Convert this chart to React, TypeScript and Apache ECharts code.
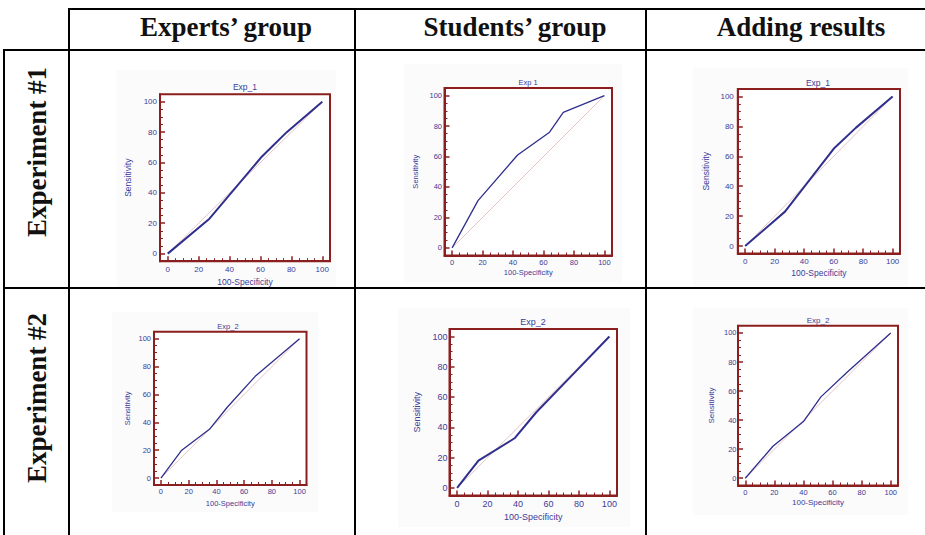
import React, { useEffect, useRef } from 'react';
import * as echarts from 'echarts';

// ---------- data ----------
const columnHeaders = ['Experts\u2019 group', 'Students\u2019 group', 'Adding results'];
const rowHeaders = ['Experiment #1', 'Experiment #2'];
const panelTitles = ['Exp_1', 'Exp 1', 'Exp_1', 'Exp_2', 'Exp_2', 'Exp_2'];
const tickValues = [0, 20, 40, 60, 80, 100];
const minorTickValues = [5, 10, 15, 25, 30, 35, 45, 50, 55, 65, 70, 75, 85, 90, 95];
const xAxisName = '100-Specificity';
const yAxisName = 'Sensitivity';
const diagonalX = [0, 100];
const diagonalY = [0, 100];

const expertsExp1X = [0, 27, 61, 77, 100];
const expertsExp1Y = [0, 23, 64, 80, 100];
const studentsExp1X = [0, 17, 43, 64, 73, 100];
const studentsExp1Y = [0, 31, 61, 76, 89, 100];
const addingExp1X = [0, 27, 60, 75, 100];
const addingExp1Y = [0, 23, 65, 79, 100];
const expertsExp2X = [0, 15, 35, 48, 68, 100];
const expertsExp2Y = [0, 20, 35, 51, 73, 100];
const studentsExp2X = [0, 14, 38, 52, 77, 100];
const studentsExp2Y = [0, 18, 33, 50, 76, 100];
const addingExp2X = [0, 19, 40, 52, 70, 100];
const addingExp2Y = [0, 22, 39, 56, 73, 100];

const curvesX = [expertsExp1X, studentsExp1X, addingExp1X, expertsExp2X, studentsExp2X, addingExp2X];
const curvesY = [expertsExp1Y, studentsExp1Y, addingExp1Y, expertsExp2Y, studentsExp2Y, addingExp2Y];

// ---------- layout / style ----------
const MAROON = '#8b1e1e';
const BLUE_TEXT = '#3b3b98';
const BLUE_LINE = '#2f2f8e';
const DIAG = '#e8c4c4';
const SANS = '"Liberation Sans", Arial, sans-serif';
const SERIF = '"Liberation Serif", "Times New Roman", serif';

const layout = [
  { L: 160, T: 94.2, R: 330, B: 261.2, tx: 245, ty: 87, tick: 8, name: 8.5, title: 8.5, yGap: 28, xGap: 16.5, xM: 4, yM: 3, lw: 2, bg: [117, 70, 336, 287] },
  { L: 444.5, T: 88, R: 612, B: 255.5, tx: 528, ty: 82, tick: 7.5, name: 7.5, title: 7.5, yGap: 25, xGap: 13, xM: 2.5, yM: 2.5, lw: 1.3, bg: [404, 64, 622, 283] },
  { L: 737.8, T: 89, R: 900, B: 253.5, tx: 818, ty: 83, tick: 8, name: 8.5, title: 8.5, yGap: 27.5, xGap: 15, xM: 3.5, yM: 4, lw: 2, bg: [693, 68, 908, 286] },
  { L: 154, T: 331.8, R: 306.5, B: 485, tx: 228, ty: 326, tick: 7.5, name: 7.5, title: 7.5, yGap: 23, xGap: 14, xM: 2, yM: 3, lw: 1.3, bg: [112, 312, 318, 512] },
  { L: 449.5, T: 329, R: 617, B: 495.5, tx: 533, ty: 322, tick: 9, name: 9, title: 9, yGap: 28, xGap: 17, xM: 3.5, yM: 2, lw: 2, bg: [398, 308, 630, 527] },
  { L: 738, T: 325.7, R: 898, B: 485.5, tx: 818, ty: 320, tick: 7.5, name: 8, title: 8, yGap: 23, xGap: 13, xM: 2.5, yM: 1.5, lw: 1.3, bg: [693, 308, 908, 515] },
];

const labelFormatter = (v: number) => (v % 20 === 0 && v >= 0 && v <= 100 ? String(v) : '');

function buildOption() {
  const grid: any[] = [];
  const xAxis: any[] = [];
  const yAxis: any[] = [];
  const series: any[] = [];
  const elements: any[] = [];

  layout.forEach((p, i) => {
    grid.push({
      left: p.L, top: p.T, width: p.R - p.L, height: p.B - p.T,
      show: true, backgroundColor: '#ffffff', borderColor: MAROON, borderWidth: 2,
    });
    const common = { gridIndex: i, type: 'value', min: -5, max: 105, splitLine: { show: false } };
    xAxis.push({
      ...common, position: 'bottom', offset: 0,
      axisLine: { show: true, onZero: false, lineStyle: { color: MAROON, width: 2 } },
      axisTick: { show: true, inside: true, length: 5, customValues: tickValues, lineStyle: { color: MAROON, width: 1.5 } },
      axisLabel: { show: true, customValues: tickValues, formatter: labelFormatter, color: BLUE_TEXT, fontSize: p.tick, fontFamily: SANS, margin: p.xM },
      name: xAxisName, nameLocation: 'middle', nameGap: p.xGap,
      nameTextStyle: { color: BLUE_TEXT, fontSize: p.name, fontFamily: SANS },
    });
    xAxis.push({
      ...common, position: 'bottom', offset: 0,
      axisLine: { show: false, onZero: false },
      axisTick: { show: true, inside: true, length: 3, customValues: minorTickValues, lineStyle: { color: MAROON, width: 1 } },
      axisLabel: { show: false },
    });
    yAxis.push({
      ...common, position: 'left', offset: 0,
      axisLine: { show: true, onZero: false, lineStyle: { color: MAROON, width: 2 } },
      axisTick: { show: true, inside: true, length: 5, customValues: tickValues, lineStyle: { color: MAROON, width: 1.5 } },
      axisLabel: { show: true, customValues: tickValues, formatter: labelFormatter, color: BLUE_TEXT, fontSize: p.tick, fontFamily: SANS, margin: p.yM },
      name: yAxisName, nameLocation: 'middle', nameGap: p.yGap, nameRotate: 90,
      nameTextStyle: { color: BLUE_TEXT, fontSize: p.name, fontFamily: SANS },
    });
    yAxis.push({
      ...common, position: 'left', offset: 0,
      axisLine: { show: false, onZero: false },
      axisTick: { show: true, inside: true, length: 3, customValues: minorTickValues, lineStyle: { color: MAROON, width: 1 } },
      axisLabel: { show: false },
    });

    series.push({
      type: 'line', xAxisIndex: 2 * i, yAxisIndex: 2 * i, symbol: 'none', silent: true,
      data: diagonalX.map((x, k) => [x, diagonalY[k]]),
      lineStyle: { color: DIAG, width: 1 }, z: 2,
    });
    series.push({
      type: 'line', xAxisIndex: 2 * i, yAxisIndex: 2 * i, symbol: 'none', silent: true,
      name: panelTitles[i],
      data: curvesX[i].map((x, k) => [x, curvesY[i][k]]),
      lineStyle: { color: BLUE_LINE, width: p.lw }, z: 3,
    });

    const [bx0, by0, bx1, by1] = p.bg;
    elements.push({
      type: 'rect', z: -10, silent: true,
      shape: { x: bx0, y: by0, width: bx1 - bx0, height: by1 - by0 },
      style: { fill: '#fbfbfb' },
    });
    elements.push({
      type: 'text', x: p.tx, y: p.ty, z: 50,
      style: { text: panelTitles[i], fill: BLUE_TEXT, font: `${p.title}px ${SANS}`, textAlign: 'center', textVerticalAlign: 'middle' },
    });
  });

  const lines = [
    [68, 9, 925, 9],
    [4, 50, 925, 50],
    [4, 288, 925, 288],
    [4, 49, 4, 535],
    [69, 8, 69, 535],
    [355, 8, 355, 535],
    [646, 8, 646, 535],
  ];
  lines.forEach(([x1, y1, x2, y2]) => {
    elements.push({ type: 'line', z: 100, silent: true, shape: { x1, y1, x2, y2 }, style: { stroke: '#000', lineWidth: 2 } });
  });
  const headerX = [226, 515, 801];
  columnHeaders.forEach((t, k) => {
    elements.push({
      type: 'text', x: headerX[k], y: 27, z: 100,
      style: { text: t, fill: '#111', font: `bold 27px ${SERIF}`, textAlign: 'center', textVerticalAlign: 'middle' },
    });
  });
  const rowY = [152, 398];
  rowHeaders.forEach((t, k) => {
    elements.push({
      type: 'text', x: 37, y: rowY[k], z: 100, rotation: Math.PI / 2,
      style: { text: t, fill: '#111', font: `bold 27px ${SERIF}`, textAlign: 'center', textVerticalAlign: 'middle' },
    });
  });

  return {
    animation: false,
    backgroundColor: '#ffffff',
    grid, xAxis, yAxis, series,
    graphic: { elements },
  };
}

export default function App() {
  const ref = useRef<HTMLDivElement>(null);
  useEffect(() => {
    if (!ref.current) return;
    const chart = echarts.init(ref.current, undefined, { renderer: 'svg' });
    chart.setOption(buildOption() as any);
    return () => chart.dispose();
  }, []);
  return (
    <div
      ref={ref}
      style={{ position: 'fixed', left: 0, top: 0, width: 925, height: 535, background: '#fff' }}
    />
  );
}
